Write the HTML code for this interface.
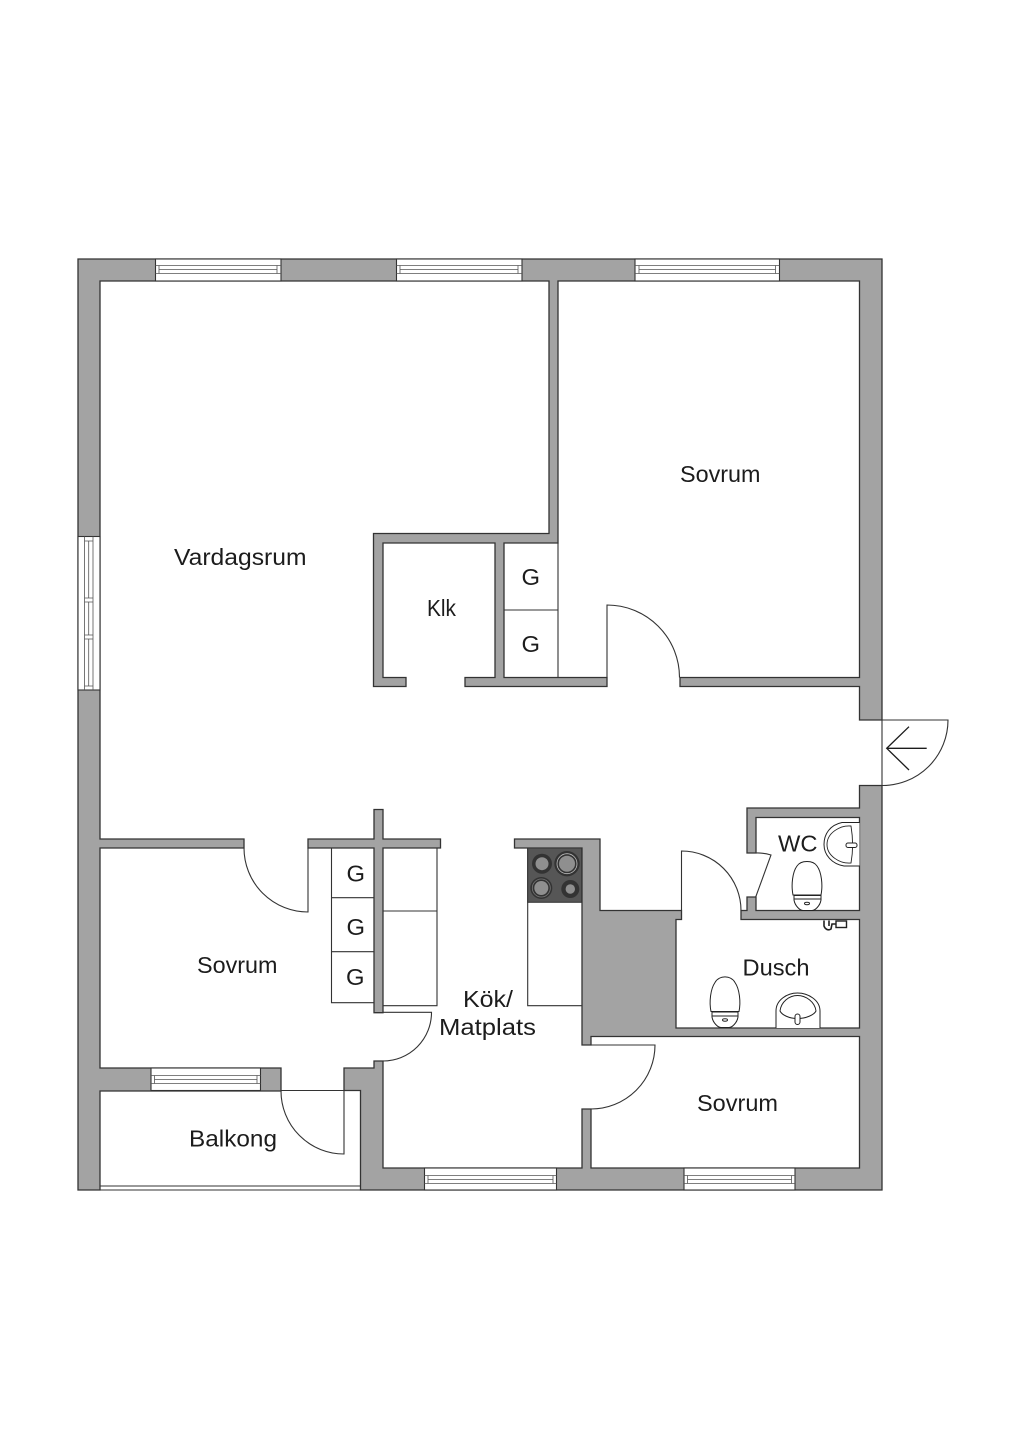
<!DOCTYPE html>
<html>
<head>
<meta charset="utf-8">
<style>
html,body{margin:0;padding:0;background:#fff;}
svg{display:block;}
text{font-family:"Liberation Sans",sans-serif;font-size:23px;fill:#1c1c1c;}
</style>
</head>
<body>
<svg width="1024" height="1448" viewBox="0 0 1024 1448" xmlns="http://www.w3.org/2000/svg">
<rect width="1024" height="1448" fill="#fff"/>

<!-- walls -->
<g fill="#a3a3a3" stroke="#333" stroke-width="1.3" stroke-linejoin="miter">
<path d="M100,281 H549 V533.5 H373.5 V686.5 H406 V677.5 H383 V543 H495 V677.5 H465 V686.5 H607 V677.5 H504 V543 H558 V281 H859.5 V677.5 H680 V686.5 H859.5 V720 H882 V259 H78 V1190 H100 V1091 H281 V1068 H100 V848 H244 V839 H100 Z"/>
<path d="M360.5,1090.5 V1190 H882 V785.5 H859.5 V808 H747 V853 H756 V817.5 H859.5 V910.5 H756 V897 H747 V910.5 H741 V919.5 H859.5 V1028 H676 V919.5 H681.5 V910.5 H600 V839 H514.5 V848 H582 V1045 H591 V1036.5 H859.5 V1168 H591 V1109 H582 V1168 H383 V1061 H374 V1068 H344 V1090.5 Z"/>
<path d="M308,839 H374 V809.5 H383 V839 H440.5 V848 H383 V1012.7 H374 V848 H308 Z"/>
</g>

<!-- windows -->
<g fill="#fff" stroke="#555" stroke-width="0.8">
<rect x="155.5" y="259" width="125.5" height="22" stroke="#333" stroke-width="1.1"/>
<path d="M155.5,265.5 H281 M155.5,273.5 H281 M159,265.5 V273.5 M277,265.5 V273.5 M159,269.5 H277"/>
<rect x="396.5" y="259" width="125.5" height="22" stroke="#333" stroke-width="1.1"/>
<path d="M396.5,265.5 H522 M396.5,273.5 H522 M400,265.5 V273.5 M518,265.5 V273.5 M400,269.5 H518"/>
<rect x="635" y="259" width="144.5" height="22" stroke="#333" stroke-width="1.1"/>
<path d="M635,265.5 H779.5 M635,273.5 H779.5 M639,265.5 V273.5 M775.5,265.5 V273.5 M639,269.5 H775.5"/>
<rect x="78" y="536.5" width="22" height="153.5" stroke="#333" stroke-width="1.1"/>
<path d="M84.5,536.5 V690 M93,536.5 V690 M84.5,541 H93 M84.5,686 H93 M88.7,541 V598 M88.7,602 V635 M88.7,639 V686 M84.5,598 H93 M84.5,602 H93 M84.5,635 H93 M84.5,639 H93"/>
<rect x="151" y="1068" width="109.5" height="22.5" stroke="#333" stroke-width="1.1"/>
<path d="M151,1075.5 H260.5 M151,1083.5 H260.5 M154.5,1075.5 V1083.5 M257,1075.5 V1083.5 M154.5,1079.5 H257"/>
<rect x="424.5" y="1168" width="132" height="22" stroke="#333" stroke-width="1.1"/>
<path d="M424.5,1175.5 H556.5 M424.5,1183.5 H556.5 M428,1175.5 V1183.5 M553,1175.5 V1183.5 M428,1179.5 H553"/>
<rect x="684" y="1168" width="111" height="22" stroke="#333" stroke-width="1.1"/>
<path d="M684,1175.5 H795 M684,1183.5 H795 M687.5,1175.5 V1183.5 M791.5,1175.5 V1183.5 M687.5,1179.5 H791.5"/>
</g>

<!-- thin lines, doors, balcony, cabinets -->
<g fill="none" stroke="#333" stroke-width="1.1">
<path d="M100,1190 H360.5 M100,1186 H360.5 M281,1090.5 H344"/>
<path d="M558,543 V677.5 M504,610 H558"/>
<path d="M374,1002.7 H331.5 V848 M331.5,897.7 H374 M331.5,951.7 H374"/>
<path d="M383,1005.7 H437 V848 M383,911 H437"/>
<path d="M527.7,848 V1005.7 H582"/>
<!-- doors -->
<path d="M607,677.5 V605 A72.5,72.5 0 0 1 679.5,677.5"/>
<path d="M308,848 V912 A64,64 0 0 1 244,848"/>
<path d="M383,1012.3 H431.5 A48.5,48.5 0 0 1 383,1061"/>
<path d="M591,1045 H655 A64,64 0 0 1 591,1109"/>
<path d="M681.5,910.5 V851 A59.5,59.5 0 0 1 741,910.5"/>
<path d="M756,853 A45,45 0 0 1 771,855 L755.7,897"/>
<path d="M344,1090.5 V1154 A63,63 0 0 1 281,1091"/>
<path d="M882,785.5 V720 H948 A65.5,65.5 0 0 1 882,785.5"/>
<path d="M926.7,748.3 H886.7 M909,726.7 L886.7,748.3 L909,770" stroke="#1c1c1c" stroke-width="1.3"/>
</g>

<!-- cooker -->
<rect x="527.7" y="848" width="54" height="54.3" fill="#565656" stroke="#333" stroke-width="1"/>
<g fill="#333">
<circle cx="542" cy="863.7" r="10"/>
<circle cx="567" cy="863.7" r="12.7"/>
<circle cx="541.3" cy="888" r="11"/>
<circle cx="570.3" cy="889" r="9"/>
</g>
<g fill="#8f8f8f">
<circle cx="542" cy="863.7" r="6.5"/>
<circle cx="567" cy="863.7" r="8"/>
<circle cx="541.3" cy="888" r="7"/>
<circle cx="570.3" cy="889" r="4.7"/>
</g>
<circle cx="567" cy="863.7" r="10" fill="none" stroke="#bbb" stroke-width="0.8"/>
<circle cx="541.3" cy="888" r="9" fill="none" stroke="#777" stroke-width="0.8"/>

<!-- fixtures -->
<g fill="#fff" stroke="#222" stroke-width="1">
<!-- WC sink -->
<path d="M859.5,822.5 H842 C830,825 824,834 824,844.5 C824,855 832,864 844,866 H859.5"/>
<path d="M851,826 C840,825 827,833 827,844.5 C827,856 840,864 851,863 C853,852 853,838 851,826 Z" fill="none" stroke-width="0.9"/>
<rect x="846" y="843" width="11" height="4.5" rx="2"/>
<!-- WC toilet -->
<path d="M793,895 C791,885 792.5,872 797,866 C801,860 813,860 817,866 C821.5,872 823,885 821,895 Z"/>
<path d="M794,895.5 H821 V900 C820,906 815,910.5 812,910.5 H803 C800,910.5 795,906 794,900 Z"/>
<path d="M794,899 H821" fill="none"/>
<ellipse cx="807" cy="903.5" rx="2.5" ry="1.2"/>
<!-- Dusch toilet -->
<path d="M711,1011.5 C709,1002 710.5,989 715,982.5 C719,975 731,975 735,982.5 C739.5,989 741,1002 739,1011.5 Z"/>
<path d="M712,1012 H738 V1017 C737,1023 732,1027.5 729,1027.5 H721 C718,1027.5 713,1023 712,1017 Z"/>
<path d="M712,1016 H738" fill="none"/>
<ellipse cx="725" cy="1020" rx="2.5" ry="1.2"/>
<!-- Dusch sink -->
<path d="M776,1028 V1011 C776,1000 787,993 797.5,993 C808,993 820,1000 820,1011 V1028"/>
<path d="M780,1011 C781,1002 789,995.5 797.5,995.5 C806,995.5 815,1002 816,1011 C814,1015 806,1018.5 797.5,1018.5 C789,1018.5 782,1015 780,1011 Z" fill="none"/>
<rect x="795" y="1014" width="5" height="10.5" rx="2.5"/>
<!-- shower fitting -->
<rect x="836" y="921" width="10.5" height="6.5" stroke-width="1.4"/>
<path d="M824,920.5 V926 C825,929 828,931 831,929 L832,924 H836 M829,920.5 V926" fill="none" stroke-width="1.6"/>
</g>

<!-- labels -->
<text x="174" y="565" textLength="132.5" lengthAdjust="spacingAndGlyphs">Vardagsrum</text>
<text x="680" y="482" textLength="80.5" lengthAdjust="spacingAndGlyphs">Sovrum</text>
<text x="427" y="616" textLength="29" lengthAdjust="spacingAndGlyphs">Klk</text>
<text x="521.5" y="585" textLength="18.5" lengthAdjust="spacingAndGlyphs">G</text>
<text x="521.5" y="652" textLength="18.5" lengthAdjust="spacingAndGlyphs">G</text>
<text x="346.5" y="881.7" textLength="18.5" lengthAdjust="spacingAndGlyphs">G</text>
<text x="346.5" y="935" textLength="18.5" lengthAdjust="spacingAndGlyphs">G</text>
<text x="346" y="985" textLength="18.5" lengthAdjust="spacingAndGlyphs">G</text>
<text x="197" y="973" textLength="80.5" lengthAdjust="spacingAndGlyphs">Sovrum</text>
<text x="463" y="1007" textLength="50" lengthAdjust="spacingAndGlyphs">Kök/</text>
<text x="439" y="1035" textLength="97" lengthAdjust="spacingAndGlyphs">Matplats</text>
<text x="742.5" y="975.7" textLength="67" lengthAdjust="spacingAndGlyphs">Dusch</text>
<text x="778" y="851.7" textLength="39.5" lengthAdjust="spacingAndGlyphs">WC</text>
<text x="189" y="1146.7" textLength="88" lengthAdjust="spacingAndGlyphs">Balkong</text>
<text x="697" y="1111" textLength="81" lengthAdjust="spacingAndGlyphs">Sovrum</text>
</svg>
</body>
</html>
